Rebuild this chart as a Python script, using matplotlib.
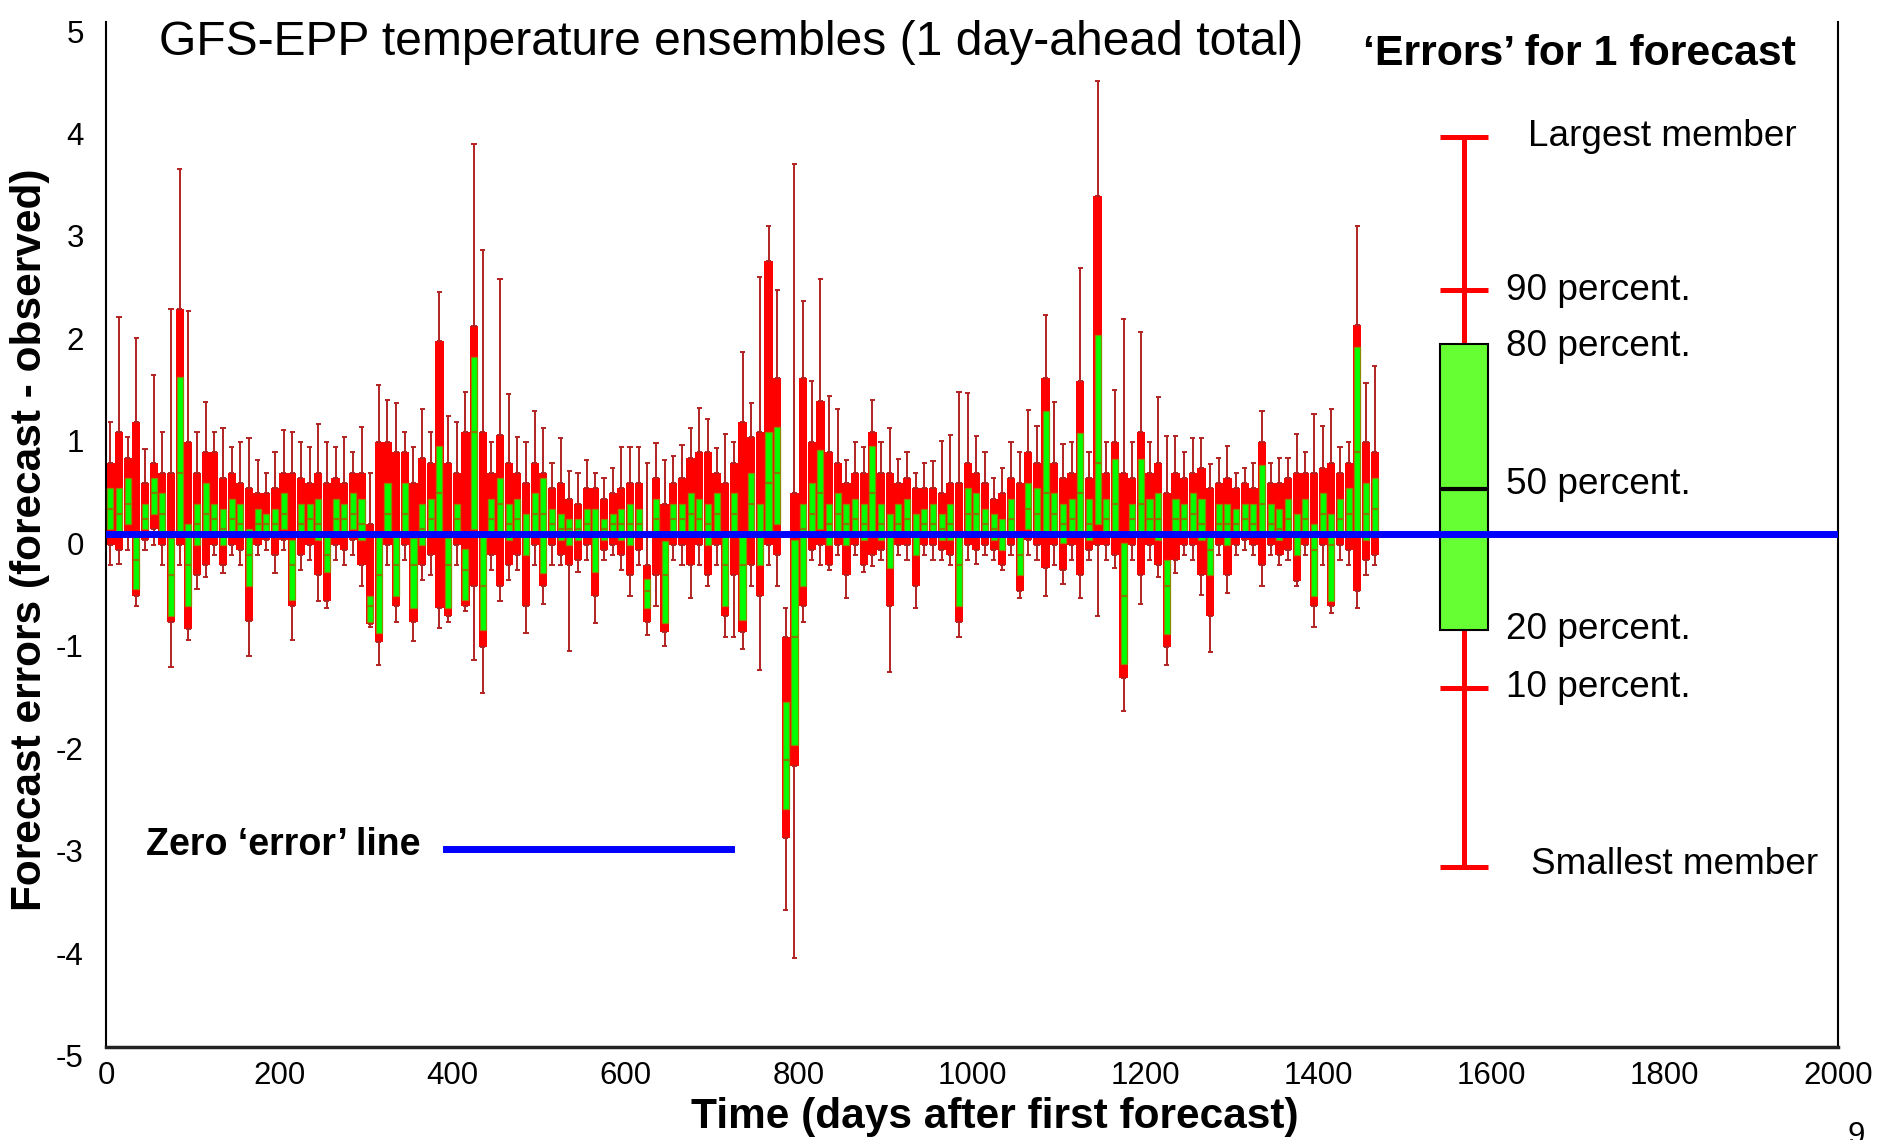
import numpy as np
import matplotlib.pyplot as plt
from matplotlib.transforms import ScaledTranslation

plt.rcParams['font.family'] = ['Liberation Sans', 'DejaVu Sans']
plt.rcParams['axes.unicode_minus'] = False

# one ensemble summary every 10 days
days = list(range(5, 1466, 10))

hi = [1.1, 2.12, 0.95, 1.92, 0.83, 1.56, 1.0, 2.2, 3.57, 2.18, 1.0, 1.29, 1.0, 1.04, 0.85, 0.9, 0.94, 0.73, 0.6, 0.8, 1.02, 1.0, 0.9, 0.85, 1.08,
      0.9, 0.85, 0.95, 0.8, 1.05, 0.6, 1.46, 1.31, 1.28, 1.0, 0.85, 1.22, 1.0, 2.37, 1.16, 1.1, 1.39, 3.81, 2.78, 0.9, 2.49, 1.37, 0.95, 0.9, 1.2,
      1.04, 0.7, 0.94, 0.62, 0.6, 0.73, 0.6, 0.55, 0.65, 0.85, 0.85, 0.85, 0.7, 0.89, 0.73, 0.77, 0.87, 1.04, 1.23, 1.13, 0.84, 0.98, 0.9, 1.78,
      1.28, 2.51, 3.01, 2.39, -0.72, 3.61, 2.28, 1.5, 2.49, 1.35, 1.22, 0.73, 0.9, 0.85, 1.31, 0.9, 1.04, 0.74, 0.8, 0.6, 0.7, 0.72, 0.91, 0.97, 1.39,
      1.38, 0.96, 0.8, 0.55, 0.65, 0.9, 0.8, 1.21, 1.06, 2.14, 1.29, 0.88, 0.9, 2.6, 0.8, 4.42, 0.9, 1.41, 2.1, 0.9, 1.98, 0.9, 1.34, 0.96,
      0.96, 0.8, 0.94, 0.94, 0.69, 0.75, 0.86, 0.6, 0.65, 0.7, 1.2, 0.7, 0.75, 0.75, 0.98, 0.8, 1.18, 1.06, 1.22, 0.85, 0.9, 3.01, 1.48, 1.64]

p90 = [0.7, 1.0, 0.75, 1.1, 0.5, 0.7, 0.6, 0.6, 2.2, 0.9, 0.6, 0.8, 0.8, 0.55, 0.6, 0.5, 0.45, 0.4, 0.4, 0.45, 0.6, 0.6, 0.55, 0.5, 0.6,
       0.5, 0.55, 0.5, 0.6, 0.6, 0.1, 0.9, 0.9, 0.8, 0.8, 0.5, 0.75, 0.7, 1.89, 0.7, 0.6, 1.0, 2.03, 1.0, 0.6, 0.97, 0.7, 0.6, 0.5, 0.7,
       0.6, 0.45, 0.5, 0.35, 0.3, 0.45, 0.45, 0.35, 0.4, 0.45, 0.5, 0.5, -0.3, 0.55, 0.3, 0.5, 0.55, 0.75, 0.8, 0.8, 0.6, 0.5, 0.7, 1.1,
       0.95, 1.0, 2.67, 1.53, -1.0, 0.4, 1.53, 0.9, 1.3, 0.8, 0.7, 0.5, 0.6, 0.6, 1.0, 0.6, 0.6, 0.5, 0.55, 0.45, 0.45, 0.45, 0.4, 0.5, 0.5,
       0.7, 0.6, 0.5, 0.35, 0.4, 0.55, 0.5, 0.8, 0.7, 1.53, 0.7, 0.55, 0.6, 1.5, 0.55, 3.3, 0.6, 0.9, 0.6, 0.55, 1.0, 0.6, 0.7, 0.4,
       0.6, 0.55, 0.6, 0.65, 0.45, 0.5, 0.55, 0.45, 0.5, 0.45, 0.9, 0.5, 0.5, 0.55, 0.6, 0.6, 0.6, 0.65, 0.7, 0.6, 0.7, 2.04, 0.9, 0.8]

p80 = [0.45, 0.45, 0.55, -0.02, 0.3, 0.55, 0.4, -0.03, 1.54, 0.1, 0.3, 0.5, 0.3, 0.25, 0.35, 0.3, 0.05, 0.25, 0.2, 0.25, 0.4, -0.05, 0.3, 0.3, 0.35,
       0.0, 0.35, 0.3, 0.4, 0.35, -0.6, -0.02, 0.5, 0.0, 0.5, -0.03, 0.3, 0.35, 0.86, -0.03, 0.3, -0.14, 1.73, -0.02, 0.35, 0.55, 0.3, 0.35, 0.2, 0.4,
       0.55, 0.25, 0.2, 0.15, 0.15, 0.25, 0.25, 0.15, 0.2, 0.25, 0.3, 0.25, -0.43, 0.35, -0.06, 0.3, 0.3, 0.4, 0.35, 0.3, 0.4, 0.0, 0.4, 0.0,
       0.6, 0.3, 1.0, 1.05, -1.63, -0.05, 0.3, 0.5, 0.82, 0.3, 0.4, 0.3, 0.35, 0.3, 0.86, 0.3, 0.2, 0.3, 0.35, 0.2, 0.25, 0.3, 0.2, 0.3, 0.0,
       0.45, 0.4, 0.25, 0.2, 0.15, 0.35, 0.0, 0.5, 0.45, 1.2, 0.4, 0.3, 0.35, 0.99, 0.35, 1.95, 0.35, 0.74, -0.08, 0.3, 0.74, 0.35, 0.4, -0.25,
       0.35, 0.3, 0.4, 0.35, 0.0, 0.3, 0.3, 0.25, 0.3, 0.3, 0.68, 0.3, 0.25, 0.35, 0.2, 0.35, 0.1, 0.4, 0.2, 0.35, 0.45, 1.83, 0.5, 0.55]

p50 = [0.25, 0.2, 0.3, -0.25, 0.15, 0.4, 0.2, -0.4, 0.6, -0.3, 0.1, 0.2, 0.15, 0.05, 0.15, 0.1, -0.2, 0.1, 0.1, 0.1, 0.2, -0.3, 0.1, 0.15, 0.1,
       -0.2, 0.15, 0.15, 0.2, 0.1, -0.7, -0.4, 0.2, -0.3, 0.2, -0.3, 0.05, 0.15, 0.4, -0.3, 0.15, -0.35, 1.0, -0.5, 0.15, 0.3, 0.1, 0.15, 0.0, 0.2,
       0.2, 0.1, 0.05, 0.05, 0.05, 0.1, 0.0, 0.05, 0.1, 0.1, 0.1, 0.1, -0.55, 0.15, -0.4, 0.15, 0.15, 0.2, 0.15, 0.1, 0.2, -0.3, 0.2, -0.3,
       0.3, 0.0, 0.5, 0.6, -2.2, -1.0, 0.05, 0.2, 0.4, 0.1, 0.2, 0.1, 0.15, 0.1, 0.4, 0.1, 0.0, 0.1, 0.15, 0.0, 0.1, 0.1, 0.05, 0.1, -0.3,
       0.2, 0.2, 0.1, 0.05, 0.0, 0.15, -0.2, 0.25, 0.2, 0.4, 0.2, 0.1, 0.15, 0.4, 0.1, 0.7, 0.15, 0.3, -0.6, 0.15, 0.3, 0.15, 0.15, -0.5,
       0.15, 0.15, 0.2, 0.1, -0.15, 0.1, 0.1, 0.1, 0.15, 0.1, 0.3, 0.1, 0.05, 0.15, 0.0, 0.15, -0.15, 0.2, -0.1, 0.15, 0.2, 0.8, 0.2, 0.25]

p20 = [0.05, 0.0, 0.1, -0.53, 0.05, 0.2, 0.0, -0.8, 0.0, -0.7, -0.1, 0.0, 0.0, -0.1, 0.0, 0.0, -0.5, 0.0, 0.0, -0.02, 0.05, -0.64, 0.0, 0.0, -0.05,
       -0.37, 0.0, 0.0, 0.05, -0.05, -0.85, -0.96, 0.0, -0.6, 0.0, -0.72, -0.1, 0.0, 0.0, -0.72, 0.0, -0.64, 0.05, -0.93, 0.0, 0.0, -0.05, 0.0, -0.2, 0.0,
       -0.38, 0.0, -0.05, -0.1, -0.05, 0.0, -0.37, -0.05, 0.0, -0.05, -0.1, 0.0, -0.72, 0.0, -0.86, 0.0, 0.0, 0.0, 0.0, -0.1, 0.0, -0.7, 0.0, -0.83,
       0.0, -0.3, 0.0, 0.1, -2.68, -2.05, -0.5, 0.0, 0.05, -0.1, 0.0, -0.1, 0.0, -0.05, 0.0, -0.05, -0.33, 0.0, 0.0, -0.2, 0.0, 0.0, -0.05, -0.05, -0.7,
       0.0, 0.0, 0.0, -0.05, -0.15, 0.0, -0.4, 0.05, 0.0, 0.0, 0.0, -0.08, 0.0, 0.0, -0.05, 0.1, 0.0, 0.0, -1.26, 0.0, 0.0, 0.0, -0.05, -0.97,
       0.0, 0.0, 0.0, -0.05, -0.4, 0.0, -0.1, 0.0, 0.0, 0.0, -0.02, 0.0, -0.05, 0.0, -0.2, 0.0, -0.6, 0.0, -0.65, 0.0, 0.0, 0.0, -0.05, 0.0]

p10 = [-0.1, -0.15, 0.0, -0.6, -0.05, 0.05, -0.1, -0.85, -0.1, -0.92, -0.4, -0.3, -0.1, -0.3, -0.1, -0.15, -0.84, -0.1, -0.05, -0.2, -0.05, -0.7, -0.2, -0.1, -0.4,
       -0.65, -0.1, -0.15, -0.05, -0.3, -0.87, -1.05, -0.1, -0.7, -0.1, -0.85, -0.3, -0.2, -0.72, -0.8, -0.1, -0.7, -0.5, -1.1, -0.2, -0.5, -0.3, -0.2, -0.7, -0.1,
       -0.5, -0.1, -0.2, -0.3, -0.25, -0.1, -0.6, -0.15, -0.1, -0.2, -0.4, -0.15, -0.85, -0.4, -0.95, -0.1, -0.1, -0.3, -0.1, -0.4, -0.1, -0.8, -0.4, -0.95,
       -0.3, -0.6, -0.1, -0.2, -2.96, -2.26, -0.7, -0.15, -0.1, -0.3, -0.1, -0.4, -0.1, -0.3, -0.2, -0.15, -0.7, -0.1, -0.1, -0.5, -0.1, -0.1, -0.15, -0.2, -0.85,
       -0.1, -0.15, -0.1, -0.15, -0.3, -0.1, -0.55, -0.05, -0.1, -0.33, -0.1, -0.35, -0.1, -0.4, -0.15, -0.1, -0.1, -0.2, -1.4, -0.1, -0.4, -0.1, -0.3, -1.1,
       -0.25, -0.1, -0.1, -0.4, -0.8, -0.1, -0.4, -0.1, -0.05, -0.1, -0.3, -0.1, -0.2, -0.15, -0.45, -0.1, -0.7, -0.1, -0.7, -0.1, -0.15, -0.55, -0.25, -0.2]

lo = [-0.3, -0.29, -0.15, -0.7, -0.15, -0.1, -0.3, -1.29, -0.3, -1.03, -0.53, -0.41, -0.2, -0.38, -0.2, -0.3, -1.19, -0.2, -0.15, -0.38, -0.15, -1.03, -0.35, -0.25, -0.65,
      -0.72, -0.25, -0.3, -0.2, -0.5, -0.9, -1.27, -0.3, -0.85, -0.25, -1.04, -0.44, -0.4, -0.91, -0.85, -0.3, -0.75, -1.22, -1.55, -0.35, -0.65, -0.44, -0.35, -0.96, -0.3,
      -0.68, -0.3, -0.3, -1.14, -0.37, -0.25, -0.86, -0.25, -0.2, -0.35, -0.6, -0.3, -0.98, -0.7, -1.09, -0.25, -0.3, -0.62, -0.3, -0.5, -0.3, -1.0, -1.0, -1.12,
      -0.5, -1.32, -0.3, -0.5, -3.66, -4.13, -0.85, -0.25, -0.3, -0.35, -0.2, -0.62, -0.2, -0.37, -0.31, -0.25, -1.34, -0.2, -0.25, -0.72, -0.2, -0.25, -0.25, -0.3, -1.0,
      -0.25, -0.29, -0.2, -0.25, -0.35, -0.2, -0.62, -0.2, -0.25, -0.6, -0.3, -0.48, -0.25, -0.62, -0.25, -0.8, -0.25, -0.33, -1.72, -0.25, -0.68, -0.25, -0.41, -1.27,
      -0.38, -0.2, -0.25, -0.59, -1.15, -0.2, -0.57, -0.2, -0.15, -0.2, -0.5, -0.2, -0.3, -0.25, -0.5, -0.2, -0.9, -0.3, -0.77, -0.25, -0.3, -0.72, -0.4, -0.3]

# the explanatory box at the right: largest, 90, 80, 50, 20, 10 %, smallest
key_x = 1568
key_levels = [3.88, 2.39, 1.86, 0.44, -0.93, -1.5, -3.24]
key_labels = ['Largest member', '90 percent.', '80 percent.', '50 percent.',
              '20 percent.', '10 percent.', 'Smallest member']

days = np.array(days)
hi, p90, p80, p50, p20, p10, lo = map(np.array, (hi, p90, p80, p50, p20, p10, lo))

fig = plt.figure(figsize=(18.94, 11.40), dpi=100)
ax = fig.add_axes([0.056, 0.0816, 0.9144, 0.8991])

# ensemble errors
ax.bar(days, p90 - p10, bottom=p10, width=9.5, color='#FF0000', lw=0, zorder=2)
ax.bar(days, p80 - p20, bottom=p20, width=7, color='#00FF00',
       edgecolor='#8B8B00', lw=0.9, zorder=3)
ax.hlines(p50, days - 3.5, days + 3.5, color='#808000', lw=1.6, zorder=3)
ax.vlines(days, p90, hi, color='#B22222', lw=1.4, zorder=2)
ax.vlines(days, lo, p10, color='#B22222', lw=1.4, zorder=2)
for v in (hi, p90, p10, lo):
    ax.hlines(v, days - 3, days + 3, color='#B22222', lw=1.4, zorder=2)

# zero line
ax.axhline(0, color='#0000FF', lw=5, zorder=5)

# key
k_hi, k_90, k_80, k_50, k_20, k_10, k_lo = key_levels
ax.vlines(key_x, k_lo, k_hi, color='#FF0000', lw=3.6, zorder=3)
ax.hlines([k_hi, k_90, k_10, k_lo], key_x - 28, key_x + 28, color='#FF0000', lw=3.6, zorder=3)
ax.bar(key_x, k_80 - k_20, bottom=k_20, width=56, color='#66FF33',
       edgecolor='black', lw=1.5, zorder=4)
ax.hlines(k_50, key_x - 28, key_x + 28, color='black', lw=3, zorder=4)

label_x = [1642, 1617, 1617, 1617, 1617, 1617, 1646]
label_y = [3.88, 2.38, 1.83, 0.49, -0.93, -1.49, -3.22]
for lx, ly, txt in zip(label_x, label_y, key_labels):
    ax.text(lx, ly, txt, fontsize=26.6, va='center', ha='left')

ax.text(1701, 4.69, '\u2018Errors\u2019 for 1 forecast', fontsize=30.9, fontweight='bold',
        ha='center', va='center')
ax.text(722, 4.8, 'GFS-EPP temperature ensembles (1 day-ahead total)', fontsize=34.6,
        ha='center', va='center')

ax.plot([393, 722], [-3.07, -3.07], color='#0000FF', lw=5)
ax.text(46, -3.03, 'Zero \u2018error\u2019 line', fontsize=27, fontweight='bold',
        ha='left', va='center')

ax.set_xlim(0, 2000)
ax.set_ylim(-4.98, 4.92)
ax.set_xticks(range(0, 2001, 200))
ax.set_yticks(range(-5, 6))
ax.tick_params(length=0, labelsize=22.5)
ax.tick_params(axis='y', pad=16)
ax.tick_params(axis='x', pad=10)
shift = ScaledTranslation(0, -0.09, fig.dpi_scale_trans)
for lab in ax.get_yticklabels():
    lab.set_transform(lab.get_transform() + shift)

ax.spines['top'].set_visible(False)
ax.spines['left'].set_linewidth(1.5)
ax.spines['right'].set_linewidth(1.5)
ax.spines['bottom'].set_linewidth(2.5)
ax.spines['bottom'].set_color('#222222')

ax.set_xlabel('Time (days after first forecast)', fontsize=30.5, fontweight='bold', va='center')
ax.set_ylabel('Forecast errors (forecast - observed)', fontsize=30.5, fontweight='bold', va='center')
ax.xaxis.set_label_coords(0.513, -0.068)
ax.yaxis.set_label_coords(-0.044, 0.495)

fig.text(0.980, 0.0167, '9', fontsize=22.5, ha='center', va='top')

fig.savefig('out.png', dpi=100)
